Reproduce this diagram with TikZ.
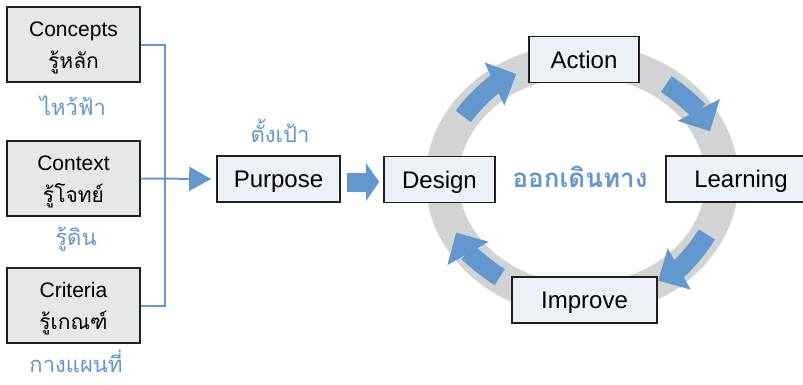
\documentclass[tikz,border=0pt]{standalone}
\usepackage{fontspec}
\setmainfont{Liberation Sans}
\newfontfamily\thaifont[Script=Thai]{Loma}
\usepackage{tikz}
\usetikzlibrary{arrows.meta}
\definecolor{cycblue}{RGB}{98,152,206}
\definecolor{ringgray}{RGB}{209,211,212}
\definecolor{boxgray}{RGB}{230,231,232}
\definecolor{boxblue}{RGB}{236,241,248}
\definecolor{edgedark}{RGB}{35,31,32}
\newcommand{\topstrut}{\rule{0pt}{21pt}}
\tikzset{
    lbox/.style={
        draw=edgedark,
        line width=1.6pt,
        fill=boxgray,
        minimum width=133pt,
        minimum height=75pt,
        inner sep=0pt,
        align=center,
        font=\fontsize{21}{32}\selectfont
    },
    cbox/.style={
        draw=edgedark,
        line width=1.6pt,
        fill=boxblue,
        minimum height=46pt,
        inner sep=0pt,
        text height=17.2pt,
        text depth=0pt,
        font=\fontsize{24}{28}\selectfont
    },
    thailabel/.style={
        text=cycblue,
        anchor=base,
        inner sep=1pt,
        text depth=0pt,
        font=\thaifont\fontsize{22}{26}\selectfont
    },
    blueline/.style={
        draw=cycblue,
        line width=2pt
    },
    cycarrow/.style={
        draw=cycblue,
        line width=19pt,
        -{Triangle[length=24pt, width=46pt]}
    }
}

\begin{document}
\begin{tikzpicture}[x=1pt, y=1pt]
  \useasboundingbox (0,0) rectangle (803,384);

  % left column
  \node[lbox] (concepts) at (73.5,339.5) {\topstrut Concepts\\{\thaifont รู้หลัก}};
  \node[lbox] (context) at (73.5,205.5) {\topstrut Context\\{\thaifont รู้โจทย์}};
  \node[lbox] (criteria) at (73.5,78.5) {\topstrut Criteria\\{\thaifont รู้เกณฑ์}};
  \node[thailabel] (sky) at (73,269) {ไหว้ฟ้า};
  \node[thailabel] (earth) at (76,139) {รู้ดิน};
  \node[thailabel] (map) at (76,12) {กางแผนที่};

  % ring
  \coordinate (hub) at (582,204);
  \draw[ringgray, line width=33pt] (hub) ellipse [x radius=140pt, y radius=120pt];
  \foreach \s/\e in {148/118, 53/24, -27/-57, 234/206} {
    \draw[cycarrow] (hub) ++(\s:140pt and 120pt)
      arc[start angle=\s, end angle=\e, x radius=140pt, y radius=120pt];
  }

  \node[cbox, minimum width=123pt] (purpose) at (278.5,205) {Purpose};
  \node[thailabel] (goal) at (280,242) {ตั้งเป้า};
  \node[cbox, minimum width=111pt] (design) at (439.5,204.5) {Design};
  \node[cbox, minimum width=110pt] (action) at (584,324.5) {Action};
  \node[cbox, minimum width=150pt] (learning) at (741,205) {Learning};
  \node[cbox, minimum width=145pt] (improve) at (584.5,84) {Improve};
  \node[thailabel, font=\thaifont\bfseries\fontsize{26}{30}\selectfont] (journey) at (580,197) {ออกเดินทาง};

  % connectors
  \coordinate (join) at (165,205.5);
  \draw[blueline] (concepts.east) -| (join) |- (criteria.east);
  \draw[blueline, -{Triangle[length=22pt, width=24pt]}, shorten >=5pt] (context.east) -- (purpose.west);
  \draw[draw=cycblue, line width=19pt, -{Triangle[length=13pt, width=37pt]}, shorten <=6pt, shorten >=4pt]
    ([yshift=-3pt]purpose.east) -- ([yshift=-3pt]purpose.east -| design.west);
\end{tikzpicture}
\end{document}
